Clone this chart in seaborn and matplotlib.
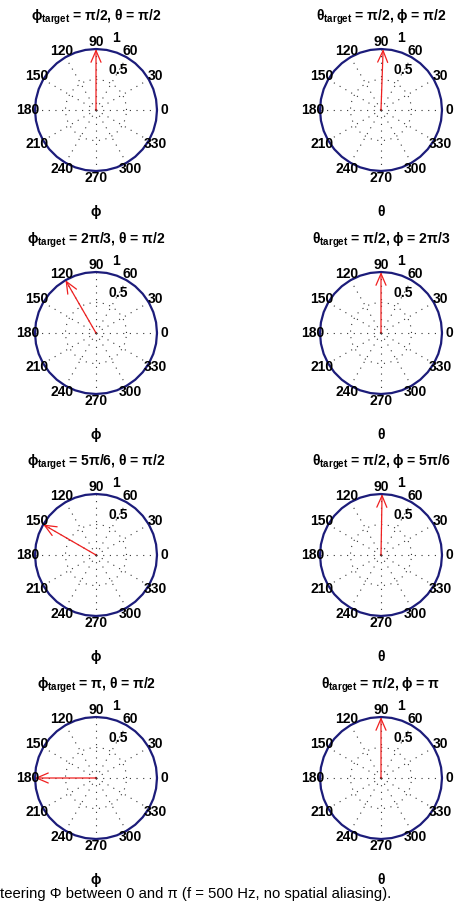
import numpy as np
import matplotlib
matplotlib.use("Agg")
import matplotlib.pyplot as plt
import seaborn as sns

sns.set_theme(style="white")
plt.rcParams["font.family"] = ["Liberation Sans", "DejaVu Sans"]
plt.rcParams["text.color"] = "black"
plt.rcParams["mathtext.fontset"] = "custom"
plt.rcParams["mathtext.rm"] = "Liberation Sans:bold"
plt.rcParams["mathtext.it"] = "Liberation Sans:bold"
plt.rcParams["mathtext.bf"] = "Liberation Sans:bold"

# ---- data ----
# beam pattern magnitude: 1 in every direction (every 10 degrees)
pattern_deg = [0, 10, 20, 30, 40, 50, 60, 70, 80, 90, 100, 110, 120, 130,
               140, 150, 160, 170, 180, 190, 200, 210, 220, 230, 240, 250,
               260, 270, 280, 290, 300, 310, 320, 330, 340, 350, 360]
pattern_gain = [1.0, 1.0, 1.0, 1.0, 1.0, 1.0, 1.0, 1.0, 1.0, 1.0, 1.0, 1.0,
                1.0, 1.0, 1.0, 1.0, 1.0, 1.0, 1.0, 1.0, 1.0, 1.0, 1.0, 1.0,
                1.0, 1.0, 1.0, 1.0, 1.0, 1.0, 1.0, 1.0, 1.0, 1.0, 1.0, 1.0,
                1.0]

phi_arrow_deg = [90, 120, 150, 180]
phi_arrow_len = [1.0, 1.0, 1.0, 1.0]
theta_arrow_deg = [88, 90, 89, 90]
theta_arrow_len = [1.0, 1.0, 1.0, 1.0]

phi_titles = ["π/2", "2π/3", "5π/6", "π"]
theta_fixed = ["π/2", "π/2", "π/2", "π/2"]
phi_fixed = ["π/2", "2π/3", "5π/6", "π"]

angle_ticks = [0, 30, 60, 90, 120, 150, 180, 210, 240, 270, 300, 330]
radius_ticks = [0.5, 1.0]
radius_labels = ["0.5", "1"]

caption = "teering Φ between 0 and π (f = 500 Hz, no spatial aliasing)."

# ---- figure ----
W, H = 462, 906
fig = plt.figure(figsize=(W / 100, H / 100), dpi=100)

R = 61
row_cy = [110, 333, 555, 778]
col_cx = [96, 381]

NAVY = "#1c1c7a"
RED = "#f02020"
PHI = "ϕ"


def make_ax(cx, cy):
    ax = fig.add_axes([(cx - R) / W, 1 - (cy + R) / H, 2 * R / W, 2 * R / H],
                      projection="polar")
    ax.set_facecolor("none")
    ax.set_ylim(0, 1.0)
    ax.set_thetagrids(angle_ticks, labels=[""] * len(angle_ticks))
    ax.set_rgrids(radius_ticks, labels=["", ""])
    ax.grid(True, color="#333333", linestyle=(0, (1, 5)), linewidth=0.8)
    ax.spines["polar"].set_visible(False)
    ax.tick_params(length=0)
    return ax


def decorate(ax, arrow_deg, arrow_len, title, xlabel):
    sns.lineplot(x=np.deg2rad(pattern_deg), y=pattern_gain, ax=ax, sort=False,
                 color=NAVY, linewidth=1.6, clip_on=False)
    ax.set_xlabel("")
    ax.set_ylabel("")
    ax.annotate("", xy=(np.deg2rad(arrow_deg), arrow_len), xytext=(0, 0),
                arrowprops=dict(arrowstyle="->,head_length=0.7,head_width=0.3",
                                color=RED, lw=0.9, shrinkA=0, shrinkB=0),
                annotation_clip=False)
    for a in angle_ticks:
        ax.text(np.deg2rad(a), 1.12, str(a), ha="center", va="center",
                fontsize=10, fontweight="bold", color="black", clip_on=False)
    ax.text(np.deg2rad(61), 0.75, radius_labels[0], ha="center", va="center",
            fontsize=10, fontweight="bold", color="black", clip_on=False)
    ax.text(np.deg2rad(74.5), 1.22, radius_labels[1], ha="center", va="center",
            fontsize=10, fontweight="bold", color="black", clip_on=False)
    ax.text(0.5, 1.26, title, transform=ax.transAxes, ha="center",
            va="center", fontsize=10, fontweight="bold", color="black")
    ax.text(0.5, -0.336, xlabel, transform=ax.transAxes, ha="center",
            va="center", fontsize=10, fontweight="bold", color="black")


for i, cy in enumerate(row_cy):
    axl = make_ax(col_cx[0], cy)
    decorate(axl, phi_arrow_deg[i], phi_arrow_len[i],
             PHI + "$_{\\mathrm{target}}$ = %s, θ = %s" % (phi_titles[i], theta_fixed[i]),
             PHI)
    axr = make_ax(col_cx[1], cy)
    decorate(axr, theta_arrow_deg[i], theta_arrow_len[i],
             "θ$_{\\mathrm{target}}$ = %s, " % theta_fixed[i] + PHI + " = %s" % phi_fixed[i],
             "θ")

fig.text(0.0, 1 - 894 / H, caption, ha="left", va="center", fontsize=10.7,
         color="black")

fig.savefig("out.png", dpi=100)
